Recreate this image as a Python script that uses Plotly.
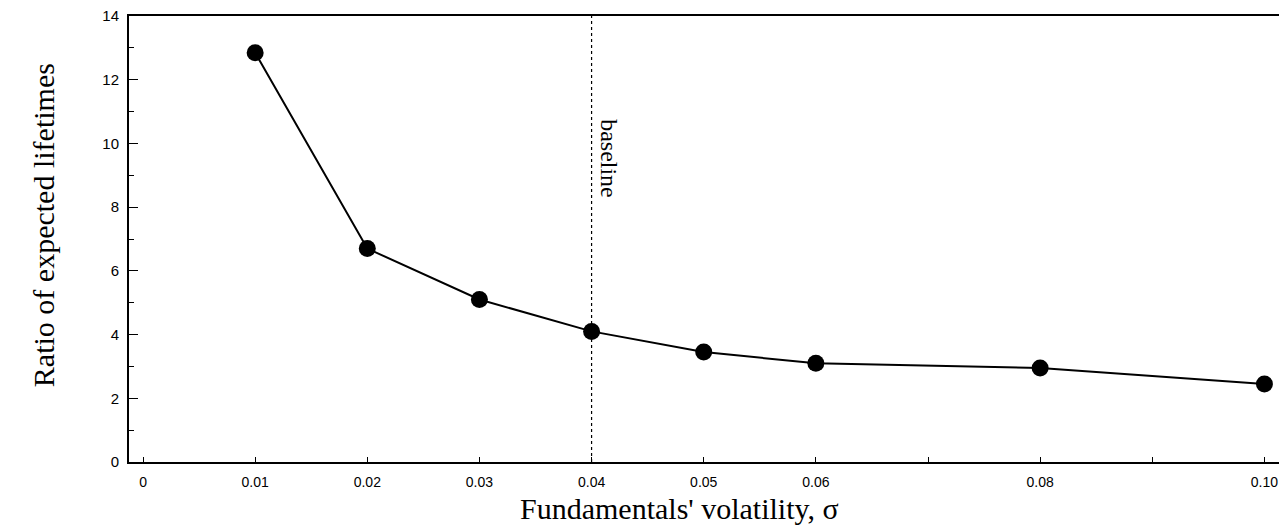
import plotly.graph_objects as go

# sigma values and ratio of expected lifetimes
sigma = [0.01, 0.02, 0.03, 0.04, 0.05, 0.06, 0.08, 0.10]
ratio = [12.85, 6.7, 5.1, 4.1, 3.45, 3.1, 2.95, 2.45]

x_tickvals = [0, 0.01, 0.02, 0.03, 0.04, 0.05, 0.06, 0.07, 0.08, 0.09, 0.10]
x_ticktext = ["0", "0.01", "0.02", "0.03", "0.04", "0.05", "0.06", "", "0.08", "", "0.10"]
y_tickvals = [0, 2, 4, 6, 8, 10, 12, 14]

baseline_sigma = 0.04

SERIF = "Liberation Serif, Times New Roman, serif"
SANS = "Liberation Sans, Arial, sans-serif"

fig = go.Figure()

fig.add_trace(go.Scatter(
    x=sigma, y=ratio,
    mode="lines+markers",
    line=dict(color="black", width=2),
    marker=dict(color="black", size=17),
    showlegend=False,
))

# dotted baseline marker
fig.add_vline(x=baseline_sigma, line=dict(color="black", width=1.2, dash="dot"))
fig.add_annotation(
    x=baseline_sigma, xref="x", xshift=18,
    y=0.68, yref="paper", xanchor="center", yanchor="middle",
    text="baseline", textangle=90, showarrow=False,
    font=dict(family=SERIF, size=24, color="black"),
)

# axis titles placed by hand to match the scan
fig.add_annotation(
    x=0.479, y=-0.105, xref="paper", yref="paper",
    xanchor="center", yanchor="middle",
    text="Fundamentals' volatility, σ", showarrow=False,
    font=dict(family=SERIF, size=30, color="black"),
)
fig.add_annotation(
    x=-0.0748, y=0.531, xref="paper", yref="paper",
    xanchor="center", yanchor="middle",
    text="Ratio of expected lifetimes", textangle=-90, showarrow=False,
    font=dict(family=SERIF, size=30, color="black"),
)

fig.update_xaxes(
    range=[-0.00125, 0.1013],
    tickvals=x_tickvals, ticktext=x_ticktext,
    ticks="inside", ticklen=5, tickcolor="black", tickwidth=1,
    ticklabelstandoff=6, ticklabeloverflow="allow",
    showline=True, linecolor="black", linewidth=2, mirror=True,
    showgrid=False, zeroline=False, automargin=False,
    tickfont=dict(family=SANS, size=14, color="black"),
)
fig.update_yaxes(
    range=[0, 14],
    tickvals=y_tickvals,
    ticks="inside", ticklen=9, tickcolor="black", tickwidth=1,
    minor=dict(ticks="inside", dtick=1, ticklen=5, tickcolor="black"),
    ticklabelstandoff=5, ticklabeloverflow="allow",
    showline=True, linecolor="black", linewidth=2, mirror=True,
    showgrid=False, zeroline=False, automargin=False,
    tickfont=dict(family=SANS, size=15, color="black"),
)

# page body has an 8px margin, so the figure is 8px smaller each way
fig.update_layout(
    width=1279, height=523,
    margin=dict(l=121, r=8, t=8, b=69),
    plot_bgcolor="white", paper_bgcolor="white",
)

fig.write_html("out.html")
